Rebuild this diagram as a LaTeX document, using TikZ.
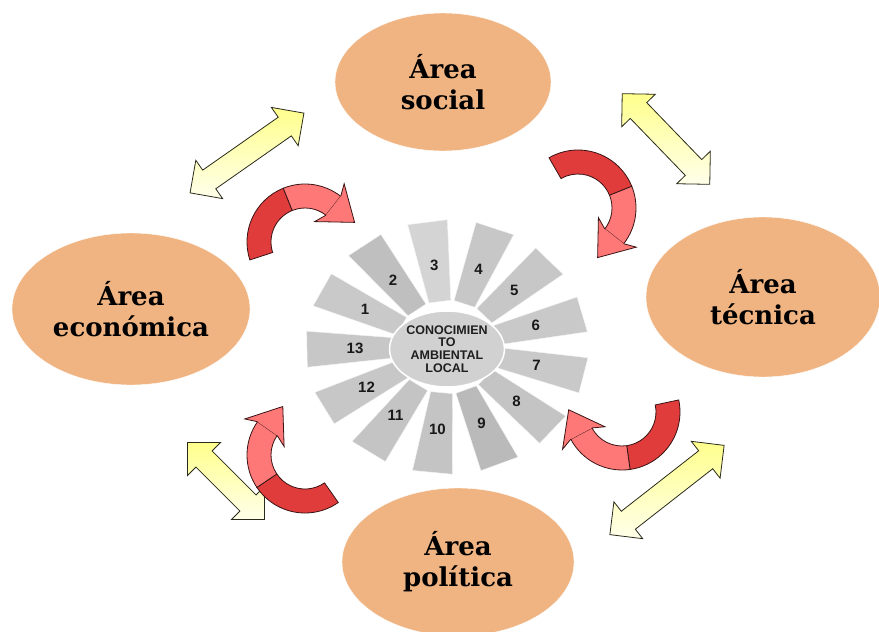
\documentclass[tikz,border=0pt]{standalone}
\usepackage{fontspec}
\usetikzlibrary{shapes.geometric, shapes.arrows, positioning}
\newfontfamily\areafont{DejaVu Serif}
\newfontfamily\numfont{Liberation Sans}
\definecolor{areapeach}{HTML}{F0B482}
\definecolor{turndark}{HTML}{E03C3C}
\definecolor{turnlight}{HTML}{FF7878}
\definecolor{turnedge}{HTML}{3A1414}
\definecolor{arrowedge}{HTML}{2A2A1A}

% curved red arrow: centre, tail angle, colour change angle, head angle (clockwise)
\newcommand{\redturn}[4]{%
  \begin{scope}[shift={#1}]
    \filldraw[draw=turnedge, thick, fill=turndark] (#2:58pt) arc[start angle=#2, end angle=#3, radius=58pt] -- (#3:34pt) arc[start angle=#3, end angle=#2, radius=34pt] -- cycle;
    \filldraw[draw=turnedge, thick, fill=turnlight] (#3:58pt) arc[start angle=#3, end angle=#4, radius=58pt] -- (#4:34pt) arc[start angle=#4, end angle=#3, radius=34pt] -- cycle;
    \filldraw[draw=turnedge, thick, fill=turnlight, rotate=#4] (34,0) -- (22,5) -- (46,-27) -- (70,5) -- (58,0);
  \end{scope}}

\begin{document}
\begin{tikzpicture}[x=1pt, y=1pt,
  area/.style={ellipse, fill=areapeach, draw=white, thin, inner sep=0pt, align=center, font=\areafont\bfseries\fontsize{26}{31}\selectfont},
  spoke/.style={draw=white!92!gray, thin},
  num/.style={font=\numfont\bfseries\fontsize{15}{15}\selectfont, text=black!90},
  yarrow/.style={double arrow, draw=arrowedge, thick, top color=yellow!45, bottom color=yellow!8, minimum width=0pt, inner xsep=0pt, inner ysep=11pt, double arrow head extend=12pt, double arrow tip angle=90}]
\useasboundingbox (0,0) rectangle (879,-632);
\fill[white] (0,0) rectangle (879,-632);

% Four areas
\node[area, minimum width=216pt, minimum height=138pt] (social) at (443,-82) {Área\\social};
\node[area, minimum width=234pt, minimum height=160pt] (tecnica) at (763,-297) {Área\\técnica};
\node[area, minimum width=238pt, minimum height=152pt] (economica) at (131,-309) {Área\\económica};
\node[area, minimum width=232pt, minimum height=148pt] (politica) at (458,-562) {Área\\política};

% Spokes round the centre
\foreach \n/\a/\tone in {1/153/79, 2/126/75, 3/98/83, 4/70/78, 5/43/78, 6/15/79, 7/-13/79, 8/-41/77, 9/-68/73, 10/-96/77, 11/-124/77, 12/-151/78, 13/-179/78} {
  \begin{scope}[shift={(447,-347)}, yscale=0.9, rotate=\a]
    \filldraw[spoke, fill=white!\tone!black] (51,-11) -- (140,-20) -- (140,20) -- (51,11) -- cycle;
    \node[num] (s\n) at (92,0) {\n};
  \end{scope}
}
\node[ellipse, minimum width=92pt, minimum height=76pt, fill=white!82!black, draw=white, line width=1.5pt, inner sep=0pt, align=center, text=black!88, font=\numfont\bfseries\fontsize{12.5}{12.7}\selectfont] (centre) at (447,-349) {CONOCIMIEN\\TO\\AMBIENTAL\\LOCAL};

% Yellow double arrows
\node[yarrow, minimum height=139pt, rotate=35] (nwlink) at (247,-153) {};
\node[yarrow, minimum height=126pt, rotate=-46] (nelink) at (666,-139) {};
\node[yarrow, minimum height=109pt, rotate=-45] (swlink) at (226,-481) {};
\node[yarrow, minimum height=145pt, rotate=38] (selink) at (667,-490) {};

% Red curved arrows
\redturn{(305,-242)}{198}{112}{52}
\redturn{(578,-208)}{120}{22}{-38}
\redturn{(622,-412)}{12}{-82}{-152}
\redturn{(305,-455)}{-55}{-146}{-215}
\end{tikzpicture}
\end{document}
